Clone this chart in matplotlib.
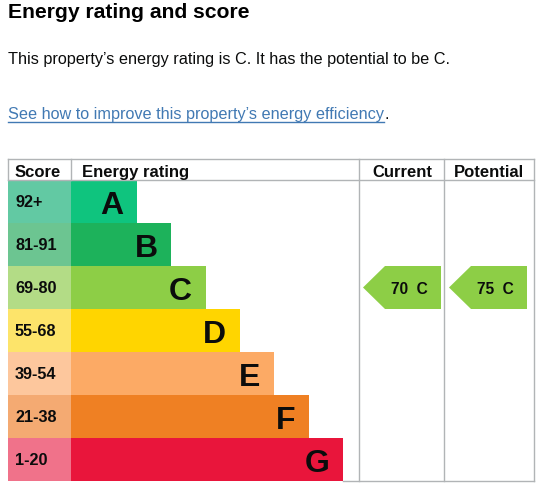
import matplotlib
matplotlib.use("Agg")
import matplotlib.pyplot as plt
from matplotlib.patches import Rectangle, Polygon

plt.rcParams['font.family'] = ['Liberation Sans', 'DejaVu Sans']

# data
letters = ['A', 'B', 'C', 'D', 'E', 'F', 'G']
score_bands = ['92+', '81-91', '69-80', '55-68', '39-54', '21-38', '1-20']
bar_colors = ['#0fc47e', '#1db25b', '#8dce46', '#ffd500', '#fcaa65', '#ef8023', '#e9153b']
score_colors = ['#62c9a3', '#6cc591', '#b3dc86', '#fde46a', '#fdc79d', '#f4aa72', '#f0728a']
current_score, current_band = 70, 'C'
potential_score, potential_band = 75, 'C'

title = "Energy rating and score"
summary = "This property\u2019s energy rating is C. It has the potential to be C."
link = "See how to improve this property\u2019s energy efficiency"

W, H = 542, 490
fig = plt.figure(figsize=(W / 100, H / 100), dpi=100)
ax = fig.add_axes([0, 0, 1, 1])
ax.set_xlim(0, W)
ax.set_ylim(H, 0)
ax.axis('off')

# header texts
ax.text(8, 17.5, title, fontsize=15.2, fontweight='bold', va='baseline', ha='left')
ax.text(8, 64, summary, fontsize=11.7, va='baseline', ha='left', color='#0b0c0c')
link_c = '#4179b3'
lt = ax.text(8, 119, link, fontsize=11.7, va='baseline', ha='left', color=link_c)
fig.canvas.draw()
bb = lt.get_window_extent().transformed(ax.transData.inverted())
ax.plot([bb.x0, bb.x1], [122.5, 122.5], color=link_c, lw=1)
ax.text(bb.x1 + 1, 119, '.', fontsize=11.7, va='baseline', ha='left', color='#0b0c0c')

# table geometry
left, right = 8, 534
top, head_bot = 159, 180
row_h = 43
score_r = 71
cur_l, pot_l = 359, 444
bottom = head_bot + row_h * len(letters)
line_c = '#b1b4b6'

for i, (let, band) in enumerate(zip(letters, score_bands)):
    y0 = head_bot + i * row_h
    yc = y0 + row_h / 2
    bar_end = 137 + 34.3 * i
    ax.add_patch(Rectangle((left, y0), score_r - left, row_h, color=score_colors[i], lw=0))
    ax.add_patch(Rectangle((score_r, y0), bar_end - score_r, row_h, color=bar_colors[i], lw=0))
    ax.text(15, yc + 5, band, fontsize=11.7, fontweight='bold', va='baseline', ha='left',
            color='#0b0c0c')
    ax.text(bar_end - 13.5, yc + 12, let, fontsize=23, fontweight='bold',
            va='baseline', ha='right', color='#0b0c0c')

# grid lines
ax.plot([left, right], [top, top], color=line_c, lw=1)
ax.plot([left, right], [head_bot, head_bot], color=line_c, lw=1)
ax.plot([left, left], [top, head_bot], color=line_c, lw=1)
ax.plot([score_r, score_r], [top, head_bot], color=line_c, lw=1)
for x in (cur_l, pot_l, right):
    ax.plot([x, x], [top, bottom], color=line_c, lw=1)
ax.plot([343, right], [bottom, bottom], color=line_c, lw=1)

hdr = dict(fontsize=12, fontweight='bold', va='baseline', color='#0b0c0c')
ax.text(15, 177, 'Score', ha='left', **hdr)
ax.text(82, 177, 'Energy rating', ha='left', **hdr)
ax.text((cur_l + pot_l) / 2 + 1, 177, 'Current', ha='center', **hdr)
ax.text((pot_l + right) / 2, 177, 'Potential', ha='center', **hdr)


def arrow(x_left, score, band):
    i = letters.index(band)
    y0 = head_bot + i * row_h
    y1 = y0 + row_h
    x_right = x_left + 78
    pts = [(x_left, (y0 + y1) / 2), (x_left + 22, y0), (x_right, y0), (x_right, y1), (x_left + 22, y1)]
    ax.add_patch(Polygon(pts, closed=True, color=bar_colors[i], lw=0))
    ax.text(x_left + 46, (y0 + y1) / 2 + 6.5, f'{score}  {band}', fontsize=11.2,
            fontweight='bold', va='baseline', ha='center', color='#0b0c0c')


arrow(363, current_score, current_band)
arrow(449, potential_score, potential_band)

fig.savefig('out.png', dpi=100)
